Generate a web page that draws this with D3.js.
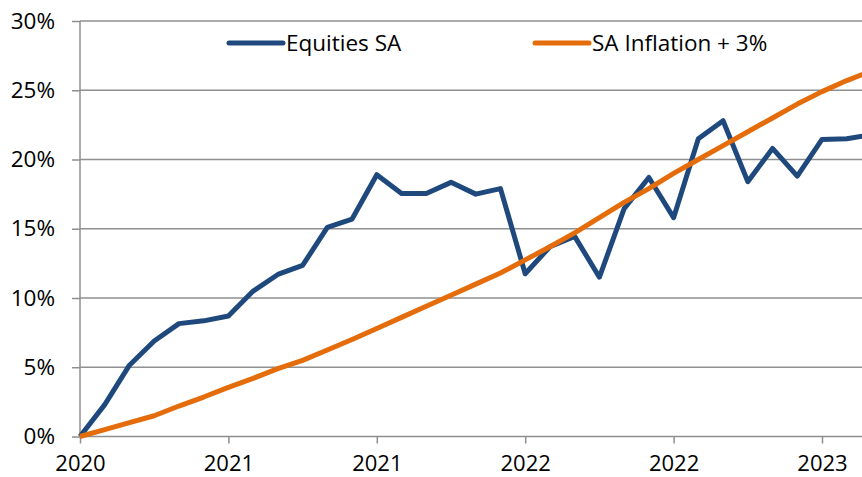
<!DOCTYPE html>
<html>
<head>
<meta charset="utf-8">
<script src="https://cdn.jsdelivr.net/npm/d3@7"></script>
<style>
    html, body { margin: 0; padding: 0; background: #fff; overflow: hidden; }
    svg text { font-family: "Open Sans", "Noto Sans", sans-serif; fill: #000; }
</style>
</head>
<body>
<div id="chart"></div>
<script>
// 数据
const tickLabels = ["2020", "2021", "2021", "2022", "2022", "2023"];
const yTicks = [0, 5, 10, 15, 20, 25, 30];
const seriesNames = ["Equities SA", "SA Inflation + 3%"];
const equities = [0, 2.3, 5.15, 6.9, 8.15, 8.35, 8.7, 10.5, 11.7, 12.35,
    15.1, 15.7, 18.9, 17.55, 17.55, 18.35, 17.5, 17.9, 11.75, 13.7,
    14.45, 11.5, 16.45, 18.7, 15.8, 21.5, 22.8, 18.4, 20.8, 18.8,
    21.45, 21.5, 21.8];
const inflation = [0, 0.5, 1.0, 1.5, 2.2, 2.85, 3.55, 4.2, 4.9, 5.5,
    6.25, 7.0, 7.8, 8.6, 9.4, 10.2, 11.0, 11.8, 12.75, 13.7,
    14.7, 15.8, 16.9, 17.9, 19.0, 20.0, 21.0, 22.0, 23.0, 24.0,
    24.9, 25.7, 26.4];

function createLineChart() {
    const width = 862, height = 477;
    const colors = ["#1F497D", "#E46C0A"];
    const gridColor = "#8f8f8f";

    const svg = d3.select("#chart")
        .append("svg")
        .attr("width", width)
        .attr("height", height);

    const x = d3.scaleLinear()
        .domain([0, 30])
        .range([80, 822]);

    const y = d3.scaleLinear()
        .domain([0, 30])
        .range([436.5, 21]);

    // 网格线
    svg.append("g")
        .selectAll("line")
        .data(yTicks.slice(1))
        .enter().append("line")
        .attr("x1", 80)
        .attr("x2", width)
        .attr("y1", d => y(d))
        .attr("y2", d => y(d))
        .attr("stroke", gridColor)
        .attr("stroke-width", 1.5);

    // y轴
    const yAxis = svg.append("g")
        .attr("transform", "translate(80,0)")
        .call(d3.axisLeft(y).tickValues(yTicks).tickSize(8).tickPadding(17).tickFormat(d => d + "%"));
    yAxis.select(".domain").remove();
    yAxis.selectAll("line").attr("stroke", gridColor).attr("stroke-width", 1.5);
    yAxis.selectAll("text").attr("font-size", 22.5).style("font-family", "Open Sans");

    svg.append("line")
        .attr("x1", 80).attr("x2", 80)
        .attr("y1", y(30)).attr("y2", y(0))
        .attr("stroke", gridColor)
        .attr("stroke-width", 1.5);

    // x轴
    const xAxis = svg.append("g")
        .attr("transform", `translate(0,${y(0)})`)
        .call(d3.axisBottom(x)
            .tickValues(tickLabels.map((d, i) => i * 6))
            .tickSize(7)
            .tickPadding(12)
            .tickFormat((d, i) => tickLabels[i]));
    xAxis.select(".domain").remove();
    xAxis.selectAll("line").attr("stroke", gridColor).attr("stroke-width", 1.5);
    xAxis.selectAll("text").attr("font-size", 22).style("font-family", "Open Sans");

    svg.append("line")
        .attr("x1", 80).attr("x2", width)
        .attr("y1", y(0)).attr("y2", y(0))
        .attr("stroke", gridColor)
        .attr("stroke-width", 1.5);

    // 折线
    const line = d3.line()
        .x((d, i) => x(i))
        .y(d => y(d));

    [equities, inflation].forEach((data, k) => {
        svg.append("path")
            .datum(data)
            .attr("fill", "none")
            .attr("stroke", colors[k])
            .attr("stroke-width", 5)
            .attr("stroke-linejoin", "round")
            .attr("d", line);
    });

    // 图例
    const legendPos = [229, 535];
    const legend = svg.append("g")
        .selectAll("g")
        .data(seriesNames)
        .enter().append("g")
        .attr("transform", (d, i) => `translate(${legendPos[i]},43)`);

    legend.append("line")
        .attr("x1", 0).attr("x2", 54)
        .attr("stroke", (d, i) => colors[i])
        .attr("stroke-width", 5)
        .attr("stroke-linecap", "round");

    legend.append("text")
        .attr("x", 57)
        .attr("dy", "0.35em")
        .attr("font-size", 22.5)
        .text(d => d);
}

createLineChart();
</script>
</body>
</html>
